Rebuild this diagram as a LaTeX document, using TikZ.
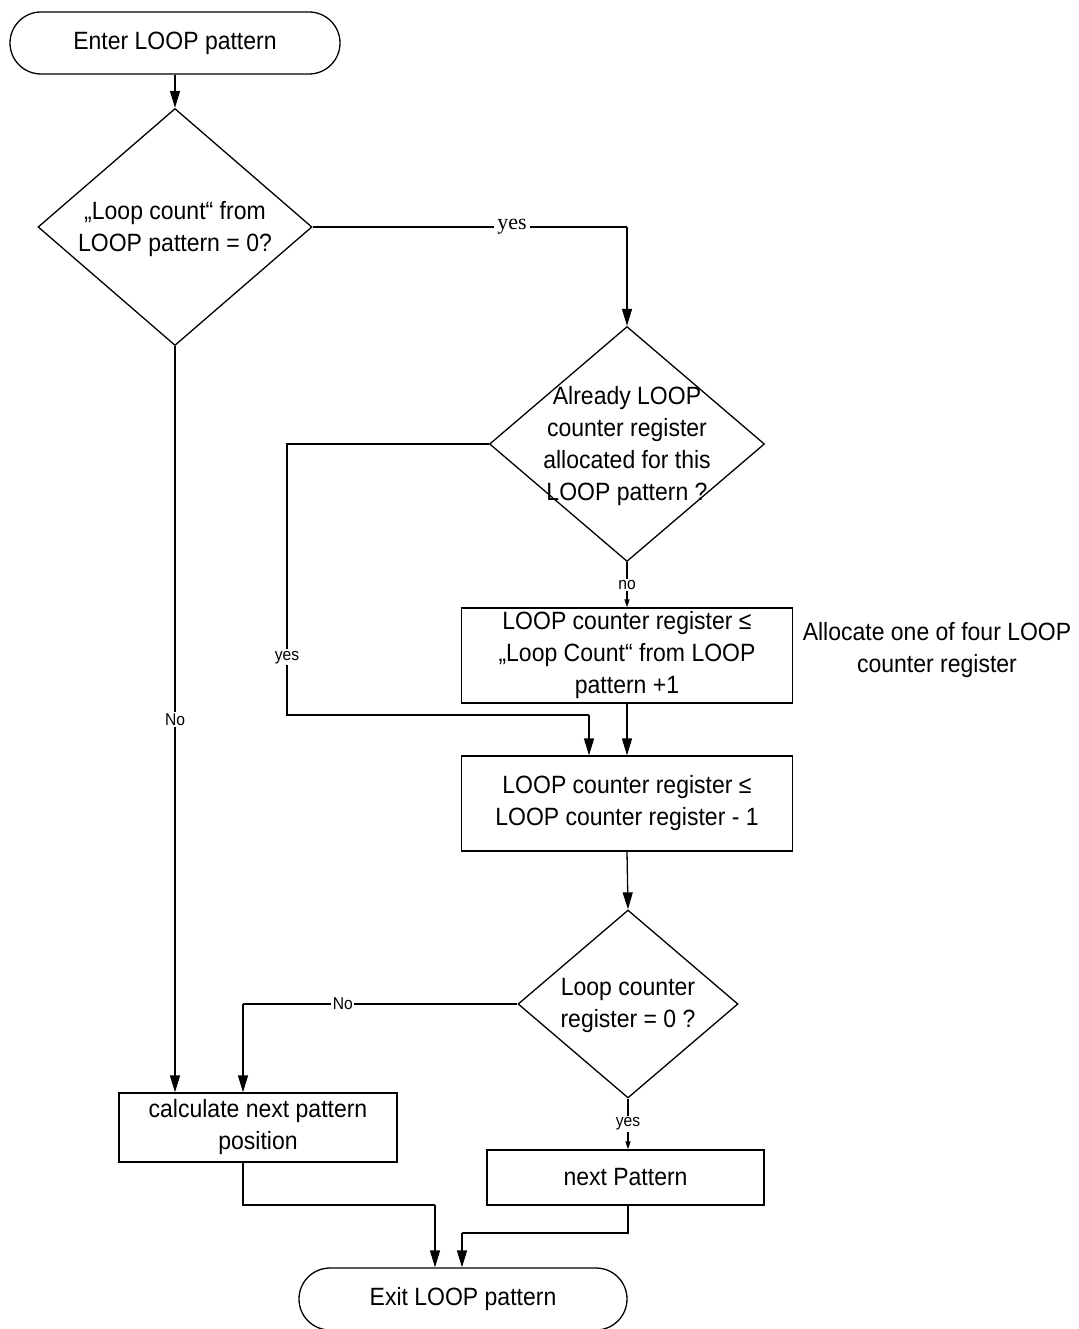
\documentclass[tikz,border=0pt]{standalone}
\usepackage{fontspec}
\setmainfont{Liberation Sans}[FakeStretch=0.92]
\newfontfamily\yesserif{Liberation Serif}
\usetikzlibrary{shapes.geometric,arrows.meta}
\newcommand{\mainsz}{\fontsize{25}{32}\selectfont}
\newcommand{\labsz}{\fontsize{17}{20}\selectfont}
\begin{document}
\begin{tikzpicture}[x=1pt,y=-1pt,
  base/.style={font=\mainsz, align=center, inner sep=0pt},
  term/.style={draw, line width=1.3pt, rounded corners=31pt, minimum width=330pt, minimum height=62pt, base},
  proc/.style={draw, line width=1.3pt, rectangle, base},
  dia/.style={draw, line width=1.3pt, diamond, inner sep=0pt},
  txt/.style={base},
  lab/.style={fill=white, inner sep=1.5pt, font=\labsz},
  serlab/.style={fill=white, inner sep=3pt, font=\yesserif\fontsize{22}{24}\selectfont},
  arr/.style={line width=1.3pt, -{Triangle[length=17pt,width=10pt]}},
  sarr/.style={line width=1.3pt, -{Triangle[length=8pt,width=5pt]}},
  plain/.style={line width=1.3pt}]
\useasboundingbox (0,0) rectangle (1078,1329);

% nodes
\node[term] (start) at (175,43) {Enter LOOP pattern};
\node[dia, minimum width=274pt, minimum height=237pt] (d1) at (175,227) {};
\node[txt] (t1) at ([yshift=-2.5pt]d1.center) {„Loop count“ from\\LOOP pattern = 0?};
\node[dia, minimum width=275pt, minimum height=235pt] (d2) at (627,444) {};
\node[txt] (t2) at ([yshift=-2pt]d2.center) {Already LOOP\\counter register\\allocated for this\\LOOP pattern ?};
\node[proc, minimum width=331pt, minimum height=95pt] (box3) at (627,655.5) {LOOP counter register ≤\\„Loop Count“ from LOOP\\pattern +1};
\node[txt] (note) at (937,650) {Allocate one of four LOOP\\counter register};
\node[proc, minimum width=331pt, minimum height=95pt] (box4) at (627,803.5) {LOOP counter register ≤\\LOOP counter register - 1};
\node[dia, minimum width=220pt, minimum height=188pt] (d3) at (628,1004) {};
\node[txt] (t3) at ([yshift=-1.5pt]d3.center) {Loop counter\\register = 0 ?};
\node[proc, minimum width=278pt, minimum height=69pt] (box5) at (258,1127.5) {calculate next pattern\\position};
\node[proc, minimum width=277pt, minimum height=55pt] (box6) at (625.5,1177.5) {next Pattern};
\node[term, minimum width=328pt] (end) at (463,1299) {Exit LOOP pattern};

% helper coordinates
\coordinate (c1) at (287,444);
\coordinate (c2) at (287,715);
\coordinate (c2b) at (589,715);
\coordinate (c3) at (243,1004);
\coordinate (c4) at (243,1205);
\coordinate (c5) at (435,1205);
\coordinate (c6) at (628,1233);
\coordinate (c7) at (462,1233);

% connectors
\draw[arr] (start.south) -- (d1.north);
\draw[plain] (d1.east) -- node[serlab,pos=0.634]{yes} (d1.east -| d2.north);
\draw[arr] (d1.east -| d2.north) -- (d2.north);
\draw[sarr] (d2.south) -- node[lab]{no} (box3.north);
\draw[plain] (d2.west) -- (c1) -- node[lab,pos=0.787]{yes} (c2) -- (c2b);
\draw[arr] (c2b) -- (c2b |- box4.north);
\draw[arr] (box3.south) -- (box4.north);
\draw[arr] (box4.south) -- (d3.north);
\draw[plain] (d3.west) -- node[lab,pos=0.636]{No} (c3);
\draw[arr] (c3) -- (c3 |- box5.north);
\draw[arr] (d1.south) -- node[lab]{No} (d1.south |- box5.north);
\draw[sarr] (d3.south) -- node[lab]{yes} (d3.south |- box6.north);
\draw[plain] (c3 |- box5.south) -- (c4) -- (c5);
\draw[arr] (c5) -- (c5 |- end.north);
\draw[plain] (d3.south |- box6.south) -- (c6) -- (c7);
\draw[arr] (c7) -- (c7 |- end.north);
\end{tikzpicture}
\end{document}
